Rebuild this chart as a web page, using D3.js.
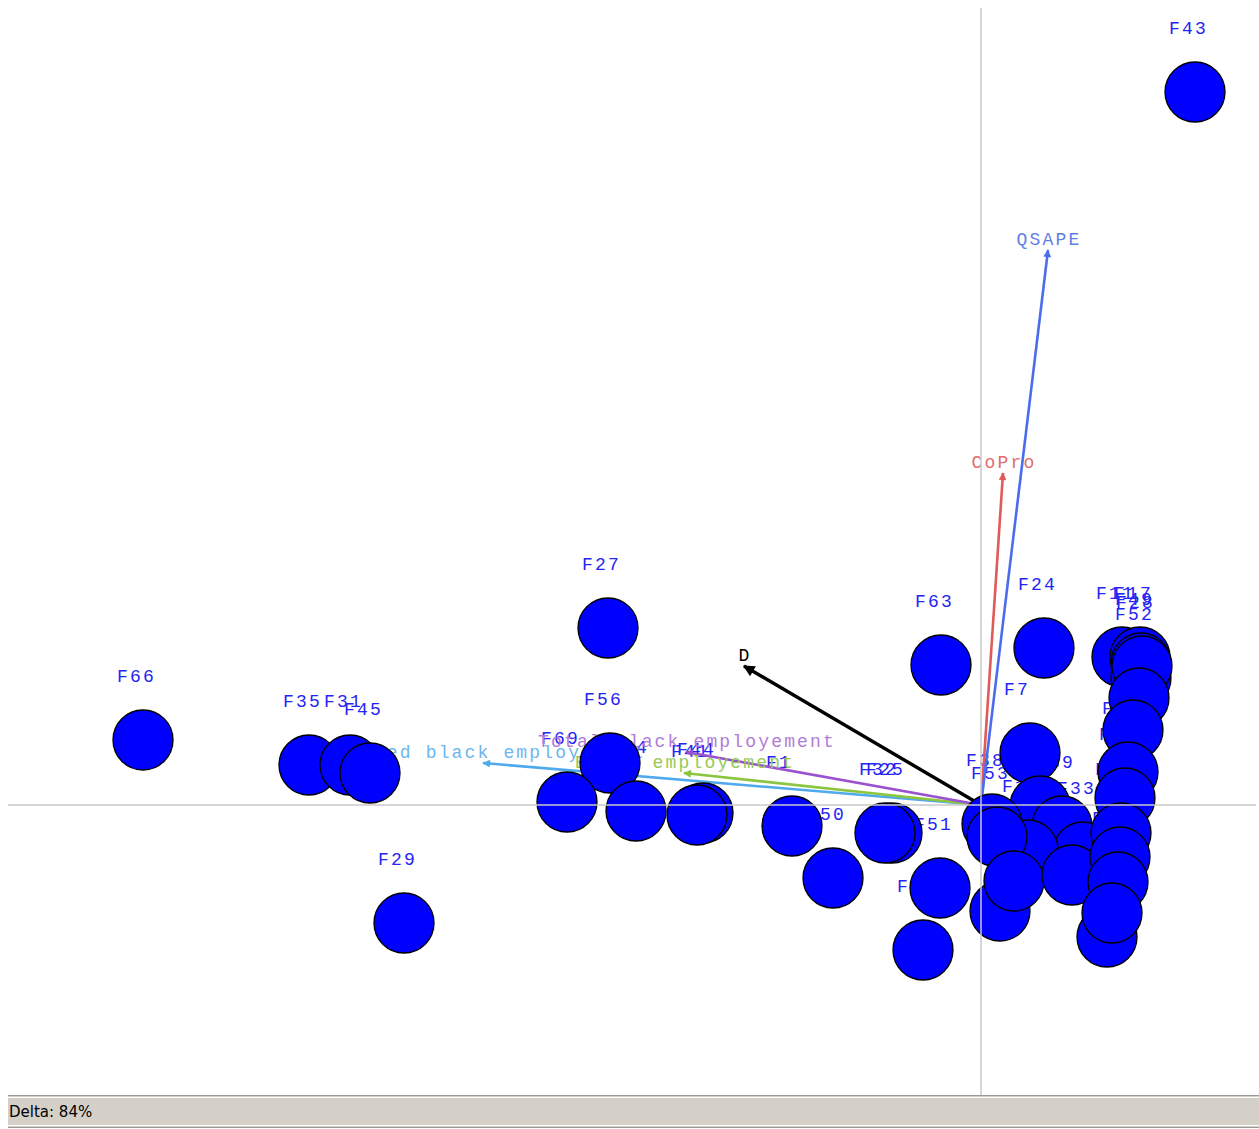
<!DOCTYPE html>
<html>
<head>
<meta charset="utf-8">
<script src="https://cdn.jsdelivr.net/npm/d3@7"></script>
<style>
  html, body { margin: 0; padding: 0; background: #fff; }
  svg { display: block; }
  .lbl { font-family: "Courier New", "Liberation Mono", monospace; font-size: 18px; letter-spacing: 2.15px; }
  .status { font-family: "DejaVu Sans", Tahoma, sans-serif; font-size: 15px; fill: #000; }
</style>
</head>
<body>
<svg id="chart" width="1259" height="1129"></svg>
<script>
// Observation scores on the first two principal axes (drawing order = back to front)
const pointNames = [
  "F43","F27","F66","F35","F31","F45","F29","F56","F69","F54",
  "F44","F41","F1","F50","F25","F32","F51","F19","F63","F24",
  "F7","F30","F39","F33","F10","F38","F53","F20","F60","F14",
  "F11","F17","F49","F52","F28","F40","F13","F2","F5","F21",
  "F68","F9","F16","F12"
];
const pointX = [
  1.070,-1.865,-4.190,-3.360,-3.155,-3.055,-2.885,-1.855,-2.070,-1.725,
  -1.390,-1.420,-0.945,-0.740,-0.445,-0.480,-0.205,-0.290,-0.200,0.315,
  0.245,0.295,0.405,0.510,0.235,0.055,0.080,0.095,0.165,0.455,
  0.705,0.795,0.800,0.800,0.805,0.790,0.760,0.735,0.720,0.700,
  0.695,0.685,0.630,0.655
];
const pointY = [
  3.565,0.885,0.325,0.200,0.200,0.160,-0.590,0.210,0.015,-0.030,
  -0.040,-0.050,-0.105,-0.365,-0.140,-0.140,-0.415,-0.725,0.700,0.785,
  0.260,-0.005,-0.105,-0.235,-0.225,-0.095,-0.160,-0.530,-0.380,-0.350,
  0.740,0.740,0.710,0.635,0.695,0.535,0.375,0.165,0.035,-0.140,
  -0.260,-0.385,-0.660,-0.540
];

// Variable loadings drawn as vectors from the origin
const varNames = ["Skilled black employement","Black employement","Total black employement","D","CoPro","QSAPE"];
const varX = [-2.490,-1.485,-1.475,-1.185,0.110,0.335];
const varY = [0.210,0.160,0.265,0.695,1.660,2.775];
const varColors = ["#4fa9ee","#8cc641","#9a52cf","#000000","#e05a5a","#4a6cef"];
const varLabelColors = ["#6db6f0","#96c957","#b27bd8","#000000","#e06e6e","#5f7ee6"];

const deltaText = "Delta: 84%";

const svg = d3.select("#chart");
const W = 1259, H = 1129;
const plot = { left: 8, right: 1256, top: 8, bottom: 1095 };

const x = d3.scaleLinear().domain([-4.865, 1.375]).range([plot.left, plot.right]);
const y = d3.scaleLinear().domain([-1.45, 3.985]).range([plot.bottom, plot.top]);

const points = pointNames.map((n, i) => ({ name: n, x: pointX[i], y: pointY[i] }));
const vars = varNames.map((n, i) => ({ name: n, x: varX[i], y: varY[i], color: varColors[i], lc: varLabelColors[i] }));

// Point labels sit above-left of each disc
svg.append("g").selectAll("text").data(points).join("text")
  .attr("class", "lbl")
  .attr("x", d => x(d.x) - 26)
  .attr("y", d => y(d.y) - 58)
  .attr("fill", "#2424f4")
  .text(d => d.name);

// Arrowhead markers, one per colour
const defs = svg.append("defs");
vars.forEach((v, i) => {
  defs.append("marker")
    .attr("id", "arr" + i)
    .attr("viewBox", "0 0 10 10")
    .attr("refX", 9).attr("refY", 5)
    .attr("markerWidth", v.name === "D" ? 4 : 3.6)
    .attr("markerHeight", v.name === "D" ? 3.4 : 3)
    .attr("markerUnits", "strokeWidth")
    .attr("orient", "auto")
    .append("path").attr("d", "M0,0 L10,5 L0,10 z").attr("fill", v.color);
});

const vg = svg.append("g");
vg.selectAll("line").data(vars).join("line")
  .attr("x1", x(0)).attr("y1", y(0))
  .attr("x2", d => x(d.x)).attr("y2", d => y(d.y))
  .attr("stroke", d => d.color)
  .attr("stroke-width", d => d.name === "D" ? 3.4 : 2.6)
  .attr("marker-end", (d, i) => `url(#arr${i})`);

vg.selectAll("text").data(vars).join("text")
  .attr("class", "lbl")
  .attr("x", d => x(d.x) + 1)
  .attr("y", d => y(d.y) - 5)
  .attr("text-anchor", "middle")
  .attr("fill", d => d.lc)
  .text(d => d.name);

// Observation discs
svg.append("g").selectAll("circle").data(points).join("circle")
  .attr("cx", d => x(d.x))
  .attr("cy", d => y(d.y))
  .attr("r", 30)
  .attr("fill", "#0000ff")
  .attr("stroke", "#000")
  .attr("stroke-width", 1.3);

// Zero axes drawn over everything
const ax = svg.append("g").attr("stroke", "#c8c8c8").attr("stroke-width", 1.5);
ax.append("line").attr("x1", x(0)).attr("x2", x(0)).attr("y1", plot.top).attr("y2", plot.bottom);
ax.append("line").attr("x1", plot.left).attr("x2", plot.right).attr("y1", y(0)).attr("y2", y(0));

// Status bar
const sb = svg.append("g");
sb.append("rect").attr("x", 8).attr("y", 1095).attr("width", W - 8).attr("height", 32).attr("fill", "#d4d0c8");
sb.append("line").attr("x1", 8).attr("x2", W).attr("y1", 1095.5).attr("y2", 1095.5).attr("stroke", "#9a9a9a");
sb.append("line").attr("x1", 8).attr("x2", W).attr("y1", 1097.5).attr("y2", 1097.5).attr("stroke", "#ffffff");
sb.append("line").attr("x1", 8).attr("x2", W).attr("y1", 1125.5).attr("y2", 1125.5).attr("stroke", "#ffffff");
sb.append("line").attr("x1", 8).attr("x2", W).attr("y1", 1127.5).attr("y2", 1127.5).attr("stroke", "#9a9a9a");
sb.append("text").attr("class", "status").attr("x", 9).attr("y", 1117).text(deltaText);
</script>
</body>
</html>
